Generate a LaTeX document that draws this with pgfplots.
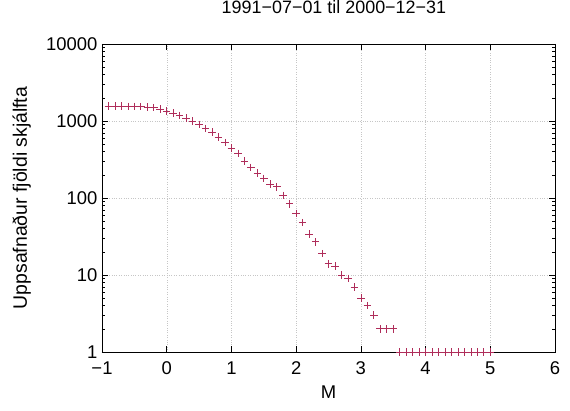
\documentclass[border=0pt]{standalone}
\usepackage{pgfplots}
\pgfplotsset{compat=1.18}
\usepackage{fontspec}
\setmainfont{Liberation Sans}
\definecolor{markred}{RGB}{175,45,90}
\begin{document}
\begin{tikzpicture}
\begin{axis}[
  scale only axis,
  width=453bp, height=308bp,
  xmin=-1, xmax=6,
  ymode=log, ymin=1, ymax=10000,
  xtick={-1,0,1,2,3,4,5,6},
  xticklabels={−1,0,1,2,3,4,5,6},
  ytick={1,10,100,1000,10000},
  yticklabels={1,10,100,1000,10000},
  tick align=inside,
  major tick length=6bp,
  minor tick length=3bp,
  every tick/.style={black, line width=0.5pt},
  axis line style={line width=0.9pt},
  grid=major,
  major grid style={dotted, gray!45, line width=0.4pt},
  tick label style={font=\fontsize{18.5}{20}\selectfont},
  /pgf/number format/assume math mode=true,
  xticklabel style={yshift=-6bp},
  yticklabel style={xshift=-1bp},
  xlabel={M},
  ylabel={Uppsafnaður fjöldi skjálfta},
  xlabel style={at={(axis description cs:0.5,-0.130)}, anchor=center, font=\fontsize{18.5}{20}\selectfont},
  ylabel style={at={(axis description cs:-0.177,0.5)}, anchor=center, font=\fontsize{19.5}{21}\selectfont},
  title={1991−07−01 til 2000−12−31},
  title style={at={(axis description cs:0.512,1.100)}, anchor=center, font=\fontsize{18}{20}\selectfont},
  clip=false,
]
\addplot[only marks, mark=+, mark size=3.8pt, color=markred, line width=0.7pt] coordinates {
(-0.9,1560) (-0.8,1558) (-0.7,1555) (-0.6,1552) (-0.5,1548) (-0.4,1540)
(-0.3,1520) (-0.2,1495) (-0.1,1420) (0.0,1350) (0.1,1260) (0.2,1180)
(0.3,1085) (0.4,995) (0.5,905) (0.6,800) (0.7,715) (0.8,620) (0.9,525)
(1.0,445) (1.1,380) (1.2,300) (1.3,250) (1.4,210) (1.5,180) (1.6,152)
(1.7,140) (1.8,108) (1.9,84) (2.0,63) (2.1,48) (2.2,34) (2.3,27)
(2.4,19) (2.5,14) (2.6,13) (2.7,10) (2.8,9) (2.9,7) (3.0,5) (3.1,4)
(3.2,3) (3.3,2) (3.4,2) (3.5,2)
(3.6,1) (3.7,1) (3.8,1) (3.9,1) (4.0,1) (4.1,1) (4.2,1) (4.3,1)
(4.4,1) (4.5,1) (4.6,1) (4.7,1) (4.8,1) (4.9,1) (5.0,1)
};
\end{axis}
\pgfresetboundingbox
\path[use as bounding box] (current axis.south west) ++(-102bp,-59bp) rectangle ([xshift=15bp,yshift=44bp]current axis.north east);
\end{tikzpicture}
\end{document}
